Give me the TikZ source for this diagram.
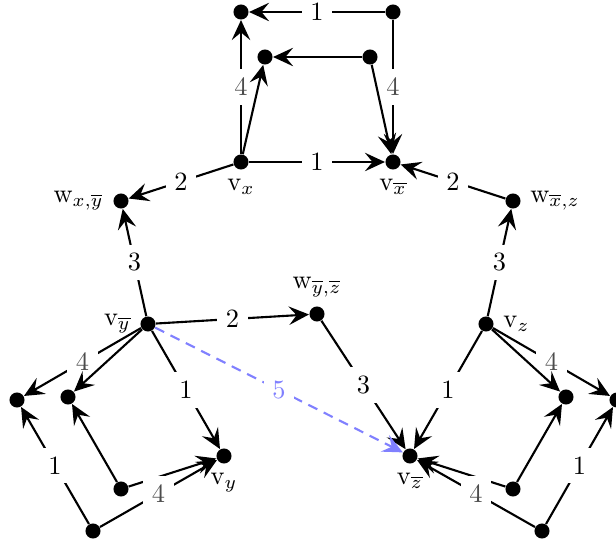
\documentclass[tikz,border=0pt]{standalone}
\usetikzlibrary{arrows.meta}
\begin{document}
\begin{tikzpicture}[x=0.379pt,y=-0.379pt,
  dot/.style={circle, fill=black, inner sep=0pt, minimum size=5.7pt},
  arr/.style={-{Stealth[length=7.6pt,width=7pt,inset=2.9pt]}, line width=0.8pt},
  lbl/.style={rectangle, fill=white, text=black},
  glbl/.style={lbl, text=black!70},
  blbl/.style={lbl, text=blue!50},
  dashedarr/.style={arr, blue!50, dash pattern=on 3.8pt off 2.7pt}]
\useasboundingbox (0,0) rectangle (616,545);
% nodes
\node[dot] (t1) at (241,12) {};
\node[dot] (t2) at (393,12) {};
\node[dot] (t3) at (265,57) {};
\node[dot] (t4) at (370,57) {};
\node[dot, label=below:{$\mathrm{v}_{x}$}] (vx) at (241,162) {};
\node[dot, label=below:{$\mathrm{v}_{\overline{x}}$}] (vxb) at (393,162) {};
\node[dot, label=left:{$\mathrm{w}_{x,\overline{y}}$}] (wxy) at (121,201) {};
\node[dot, label=right:{$\mathrm{w}_{\overline{x},z}$}] (wxz) at (513,201) {};
\node[dot, label=left:{$\mathrm{v}_{\overline{y}}$}] (vyb) at (148,324) {};
\node[dot, label=above:{$\mathrm{w}_{\overline{y},\overline{z}}$}] (wyz) at (317,314) {};
\node[dot, label=right:{$\mathrm{v}_{z}$}] (vz) at (486,324) {};
\node[dot, label=below:{$\mathrm{v}_{\overline{z}}$}] (vzb) at (410,456) {};
\node[dot, label=below:{$\mathrm{v}_{y}$}] (vy) at (224,456) {};
\node[dot] (l1) at (17,400) {};
\node[dot] (l2) at (68,397) {};
\node[dot] (l3) at (121,489) {};
\node[dot] (l4) at (93,531) {};
\node[dot] (r1) at (566,397) {};
\node[dot] (r2) at (617,400) {};
\node[dot] (r3) at (513,489) {};
\node[dot] (r4) at (542,531) {};
% top gadget
\draw[arr] (t2) -- node[lbl]{1} (t1);
\draw[arr] (t4) -- (t3);
\draw[arr] (vx) -- node[glbl]{4} (t1);
\draw[arr] (vx) -- (t3);
\draw[arr] (t2) -- node[glbl]{4} (vxb);
\draw[arr] (t4) -- (vxb);
\draw[arr] (vx) -- node[lbl]{1} (vxb);
% middle
\draw[arr] (vx) -- node[lbl]{2} (wxy);
\draw[arr] (wxz) -- node[lbl]{2} (vxb);
\draw[arr] (vyb) -- node[lbl]{3} (wxy);
\draw[arr] (vz) -- node[lbl]{3} (wxz);
\draw[arr] (vyb) -- node[lbl]{2} (wyz);
\draw[arr] (wyz) -- node[lbl]{3} (vzb);
\draw[arr] (vz) -- node[lbl]{1} (vzb);
\draw[arr] (vyb) -- node[lbl]{1} (vy);
% left gadget
\draw[arr] (vyb) -- node[glbl]{4} (l1);
\draw[arr] (vyb) -- (l2);
\draw[arr] (l3) -- (l2);
\draw[arr] (l4) -- node[lbl]{1} (l1);
\draw[arr] (l3) -- (vy);
\draw[arr] (l4) -- node[glbl]{4} (vy);
% right gadget
\draw[arr] (vz) -- node[glbl]{4} (r2);
\draw[arr] (vz) -- (r1);
\draw[arr] (r3) -- (r1);
\draw[arr] (r4) -- node[lbl]{1} (r2);
\draw[arr] (r3) -- (vzb);
\draw[arr] (r4) -- node[glbl]{4} (vzb);
% dashed
\draw[dashedarr] (vyb) -- node[blbl]{5} (vzb);
\end{tikzpicture}
\end{document}
